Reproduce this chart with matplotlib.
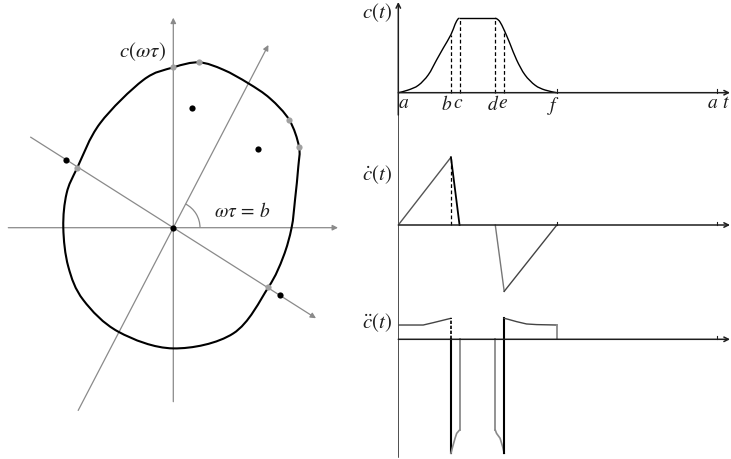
import numpy as np
import matplotlib
matplotlib.use("Agg")
import matplotlib.pyplot as plt
from matplotlib.path import Path
from matplotlib.patches import PathPatch, Arc

plt.rcParams["mathtext.fontset"] = "stix"
plt.rcParams["font.family"] = ["STIXGeneral", "DejaVu Serif"]

# ---------------- contour c(ωτ) in the plane ----------------
contour_x = [118.3, 121.7, 125.0, 125.7, 116.0, 96.7, 75.0, 50.0, 25.7, 0.0,
             -30.0, -73.3, -96.0, -106.7, -110.0, -105.0, -90.0, -55.0, 0.0,
             60.0, 95.0, 110.0]
contour_y = [0.0, 27.7, 61.0, 81.0, 107.7, 129.3, 144.4, 158.0, 165.3, 160.3,
             147.7, 104.3, 60.0, 34.3, 0.0, -39.0, -72.3, -104.0, -120.7,
             -105.7, -59.7, -29.0]

# samples on the contour (grey) and their shifted counterparts (black)
on_curve_x = [0.0, 25.7, 116.0, 125.7, -96.0, 95.0]
on_curve_y = [160.3, 165.3, 107.7, 81.0, 60.0, -59.7]
shifted_x = [0.0, 19.0, 84.3, -107.7, 106.7]
shifted_y = [0.0, 120.0, 78.7, 67.7, -67.3]

# rotated frame: direction angles (degrees) and half-lengths of the two lines
frame_angles = [62.5, -32.4]
frame_lengths = [206.0, 169.0]

# ---------------- time profiles ----------------
t_keys = [0.0, 1.65, 1.92, 3.04, 3.32, 4.97, 10.0]
t_names = ["a", "b", "c", "d", "e", "f", "a"]

pos_rise_t = [0.0, 0.31, 0.63, 0.94, 1.20, 1.41, 1.65, 1.78, 1.87, 1.92]
pos_rise_v = [0.0, 0.036, 0.10, 0.24, 0.44, 0.60, 0.78, 0.92, 0.99, 1.0]
pos_fall_t = [3.04, 3.10, 3.19, 3.32, 3.50, 3.71, 3.97, 4.29, 4.60, 4.97]
pos_fall_v = [1.0, 0.99, 0.95, 0.84, 0.66, 0.44, 0.24, 0.10, 0.036, 0.0]

vel_t = [0.0, 1.65, 1.92, 3.04, 3.32, 4.97]
vel_v = [0.0, 1.0, 0.0, 0.0, -0.98, 0.0]

acc_ab_t = [0.0, 0.78, 1.09, 1.65]
acc_ab_v = [0.68, 0.68, 0.79, 1.0]
acc_bc_t = [1.65, 1.705, 1.78, 1.83, 1.92]
acc_bc_v = [-5.43, -5.11, -4.71, -4.48, -4.32]
acc_de_t = [3.04, 3.08, 3.19, 3.27, 3.32]
acc_de_v = [-4.32, -4.48, -4.71, -5.11, -5.43]
acc_ef_t = [3.32, 3.45, 3.71, 4.02, 4.34, 4.97]
acc_ef_v = [1.0, 0.95, 0.84, 0.73, 0.70, 0.68]


def smooth_path(xs, ys, closed=False):
    """Catmull-Rom curve through the given points, as cubic Bezier segments."""
    P = np.column_stack([xs, ys]).astype(float)
    n = len(P)
    if closed:
        get = lambda i: P[i % n]
        nseg = n
    else:
        get = lambda i: P[min(max(i, 0), n - 1)]
        nseg = n - 1
    verts, codes = [P[0]], [Path.MOVETO]
    for i in range(nseg):
        p0, p1, p2, p3 = get(i - 1), get(i), get(i + 1), get(i + 2)
        verts += [p1 + (p2 - p0) / 6.0, p2 - (p3 - p1) / 6.0, p2]
        codes += [Path.CURVE4] * 3
    return Path(verts, codes)


W, H = 731, 459
fig = plt.figure(figsize=(W / 100, H / 100), dpi=100)
fig.patch.set_facecolor("white")

GREY = "#8a8a8a"
INK = "#1e1e1e"

# ---------------- left panel ----------------
axL = fig.add_axes([0, 0, 350 / W, 1])
axL.set_xlim(-173.3, 176.7)
axL.set_ylim(-231.3, 227.7)
axL.axis("off")

arrow_kw = dict(arrowstyle="-|>", color=GREY, lw=0.9, mutation_scale=8,
                shrinkA=0, shrinkB=0)
axL.annotate("", xy=(164.7, 0), xytext=(-165.0, 0), arrowprops=arrow_kw)
axL.annotate("", xy=(0, 210.0), xytext=(0, -174.0), arrowprops=arrow_kw)
for ang, ln in zip(frame_angles, frame_lengths):
    u = np.array([np.cos(np.radians(ang)), np.sin(np.radians(ang))])
    axL.annotate("", xy=u * ln, xytext=-u * ln, arrowprops=arrow_kw)

axL.add_patch(Arc((0, 0), 53.4, 53.4, theta1=0, theta2=frame_angles[0],
                  color=GREY, lw=0.9))

axL.add_patch(PathPatch(smooth_path(contour_x, contour_y, closed=True),
                        facecolor="none", edgecolor="black", lw=1.5, zorder=3))

axL.scatter(on_curve_x, on_curve_y, s=20, color="#a0a0a0", zorder=4, linewidths=0)
axL.scatter(shifted_x, shifted_y, s=20, color="black", zorder=5, linewidths=0)

axL.text(-31, 176, r"$c(\omega\tau)$", fontsize=15, color=INK,
         ha="center", va="center")
axL.text(69, 16, r"$\omega\tau\,=\,b$", fontsize=14, color=INK,
         ha="center", va="center")

# ---------------- right panels ----------------
x0 = 398.3
px_per_t = 31.9
xmax = (W - x0) / px_per_t
left = x0 / W
width = (W - x0) / W

# (top px, bottom px, baseline px, px per unit)
rows = [(0, 115, 92.7, 74.4), (115, 300, 225.0, 67.7), (300, 459, 339.3, 21.0)]
axes = []
for top, bot, base, ppu in rows:
    ax = fig.add_axes([left, (H - bot) / H, width, (bot - top) / H])
    ax.set_xlim(0, xmax)
    ax.set_ylim(-(bot - base) / ppu, (base - top) / ppu)
    ax.axis("off")
    axes.append(ax)

haxis_kw = dict(arrowstyle="->", color=INK, lw=1.1, mutation_scale=8,
                shrinkA=0, shrinkB=0)
for ax, (top, bot, base, ppu) in zip(axes, rows):
    ax.annotate("", xy=(xmax - 0.03, 0), xytext=(0, 0), arrowprops=haxis_kw)
    ax.plot([t_keys[-1]] * 2, [0, 3.5 / ppu], color=INK, lw=0.8)

# vertical axis running through all three rows
ax0, ax1, ax2 = axes
ax0.annotate("", xy=(0, (92.7 - 2) / 74.4), xytext=(0, ax0.get_ylim()[0]),
             arrowprops=haxis_kw)
ax1.plot([0, 0], ax1.get_ylim(), color=INK, lw=1.1)
ax2.plot([0, 0], [ax2.get_ylim()[1], (339.3 - 457) / 21.0], color=INK, lw=1.1)

# c(t)
ax0.add_patch(PathPatch(smooth_path(pos_rise_t, pos_rise_v), facecolor="none",
                        edgecolor="black", lw=1.0))
ax0.plot([pos_rise_t[-1], pos_fall_t[0]], [pos_rise_v[-1], pos_fall_v[0]],
         color="black", lw=1.0)
ax0.add_patch(PathPatch(smooth_path(pos_fall_t, pos_fall_v), facecolor="none",
                        edgecolor="black", lw=1.0))
dash_t = [pos_rise_t[6], pos_rise_t[-1], pos_fall_t[0], pos_fall_t[3]]
dash_v = [pos_rise_v[6], pos_rise_v[-1], pos_fall_v[0], pos_fall_v[3]]
for tt, vv in zip(dash_t, dash_v):
    ax0.plot([tt, tt], [0, vv], color="black", lw=0.9, ls=(0, (3, 2)))
ax0.plot([t_keys[5]] * 2, [0, 3.5 / 74.4], color=INK, lw=0.8)

# labels sit just below the time axis, nudged so neighbouring letters stay apart
label_shift = [0.16, -0.14, -0.05, -0.08, -0.05, -0.10, -0.14]
for tk, name, dx in zip(t_keys, t_names, label_shift):
    ax0.text(tk + dx, -0.03, f"${name}$", fontsize=14, color=INK,
             ha="center", va="top")
ax0.text(t_keys[-1] + 0.26, -0.03, r"$t$", fontsize=14, color=INK,
         ha="center", va="top")
ax0.text(-0.2, 1.07, r"$c(t)$", fontsize=15, color=INK, ha="right", va="center")

# velocity
seg_colors = ["#555555", "black", None, "#777777", "#444444"]
for i, col in enumerate(seg_colors):
    if col is None:
        continue
    ax1.plot(vel_t[i:i + 2], vel_v[i:i + 2], color=col,
             lw=1.3 if col == "black" else 1.0)
ax1.plot([vel_t[1]] * 2, [0, vel_v[1]], color="black", lw=0.9, ls=(0, (3, 2)))
ax1.plot([vel_t[5]] * 2, [0, 3.5 / 67.7], color=INK, lw=0.8)
ax1.text(-0.2, 0.74, r"$\dot{c}(t)$", fontsize=15, color=INK,
         ha="right", va="center")

# acceleration
ax2.plot(acc_ab_t, acc_ab_v, color="#444444", lw=1.0)
ax2.plot([acc_ab_t[-1]] * 2, [0, acc_ab_v[-1]], color="black", lw=1.2,
         ls=(0, (2, 1)))
ax2.plot([acc_bc_t[0]] * 2, [0, acc_bc_v[0]], color="black", lw=1.5)
ax2.plot(acc_bc_t, acc_bc_v, color=GREY, lw=1.2)
ax2.plot([acc_bc_t[-1]] * 2, [acc_bc_v[-1], 0], color=GREY, lw=1.3)
ax2.plot([acc_de_t[0]] * 2, [0, acc_de_v[0]], color=GREY, lw=1.3)
ax2.plot(acc_de_t, acc_de_v, color=GREY, lw=1.2)
ax2.plot([acc_de_t[-1]] * 2, [acc_de_v[-1], acc_ef_v[0]], color="black", lw=1.5)
ax2.plot(acc_ef_t, acc_ef_v, color="#444444", lw=1.0)
ax2.plot([acc_ef_t[-1]] * 2, [acc_ef_v[-1], 0], color=GREY, lw=1.3)
ax2.text(-0.2, 0.78, r"$\ddot{c}(t)$", fontsize=15, color=INK,
         ha="right", va="center")

fig.savefig("out.png", dpi=100, facecolor="white")
